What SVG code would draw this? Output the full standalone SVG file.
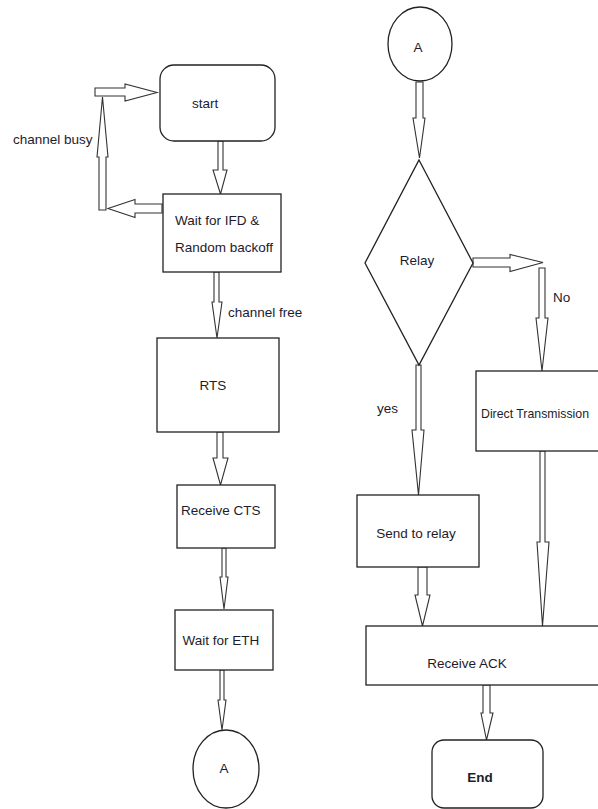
<svg xmlns="http://www.w3.org/2000/svg" width="598" height="809" viewBox="0 0 598 809">
<style>
.box{fill:#fff;stroke:#222;stroke-width:1.3}
.arr{fill:#fff;stroke:#333;stroke-width:1.1;stroke-linejoin:miter}
text{font-family:"Liberation Sans",Arial,sans-serif;font-size:13.5px;fill:#1c1c2c}
.c{text-anchor:middle}
</style>
<rect width="598" height="809" fill="#fff"/>
<g id="connectors">
<polygon class="arr" points="218,141 223,141 223,170 227,170 220.5,194 213,170 218,170"/>
<polygon class="arr" points="162,204 162,213 135,213 135,217.5 108,208.5 135,199.5 135,204"/>
<polygon class="arr" points="99,210 106,210 106,157 108,157 102.5,97 97,157 99,157"/>
<polygon class="arr" points="95,88 125,88 125,84 157,92.5 125,101 125,96 95,96"/>
<polygon class="arr" points="214,272 219,272 219,302 222,302 217,338 212,302 214,302"/>
<polygon class="arr" points="217,432 223,432 223,458 228,458 220.5,485 213,458 217,458"/>
<polygon class="arr" points="222,548 226,548 226,577 228,577 224,609 220,577 222,577"/>
<polygon class="arr" points="220,670 224,670 224,700 226,700 222,730 218,700 220,700"/>
<polygon class="arr" points="416,82 423,82 423,118 425,118 419.5,158 413,118 416,118"/>
<polygon class="arr" points="473,258 510,258 510,254.5 543,262.5 510,271.5 510,267 473,267"/>
<polygon class="arr" points="539,268 545,268 545,318 548,318 542,371 536,318 539,318"/>
<polygon class="arr" points="416,365 421,365 421,430 424,430 418.5,495 412,430 416,430"/>
<polygon class="arr" points="540,451 545,451 545,542 549,542 542.5,626 537,542 540,542"/>
<polygon class="arr" points="418,567 427,567 427,595 430,595 422.5,626 415,595 418,595"/>
<polygon class="arr" points="483,685 490,685 490,713 493,713 486.5,740 481,713 483,713"/>
</g>
<g id="start"><rect class="box" x="160" y="65" width="115" height="76" rx="14"/><text x="192" y="108">start</text></g>
<g id="wait-ifd"><rect class="box" x="163" y="194" width="118" height="78"/><text x="175" y="225">Wait for IFD &amp;</text><text x="175" y="252">Random backoff</text></g>
<g id="label-busy"><text x="13" y="144">channel busy</text></g>
<g id="label-free"><text x="228" y="317">channel free</text></g>
<g id="rts"><rect class="box" x="157" y="338" width="122" height="94"/><text class="c" x="213" y="390">RTS</text></g>
<g id="receive-cts"><rect class="box" x="177" y="485" width="98" height="63"/><text x="181" y="515">Receive CTS</text></g>
<g id="wait-eth"><rect class="box" x="175" y="610" width="98" height="60"/><text class="c" x="221" y="645">Wait for ETH</text></g>
<g id="a-bottom"><ellipse class="box" cx="226" cy="769" rx="33" ry="39"/><text class="c" x="224" y="773">A</text></g>
<g id="a-top"><ellipse class="box" cx="420" cy="44" rx="32" ry="37"/><text class="c" x="418" y="52">A</text></g>
<g id="relay"><polygon class="box" points="419,160 473,263 419,365 365,263"/><text class="c" x="417" y="265">Relay</text></g>
<g id="label-no"><text x="553" y="302">No</text></g>
<g id="label-yes"><text x="377" y="413">yes</text></g>
<g id="direct"><rect class="box" x="476" y="371" width="140" height="80"/><text x="481" y="418" font-size="12.5" textLength="108" lengthAdjust="spacingAndGlyphs">Direct Transmission</text></g>
<g id="send-relay"><rect class="box" x="357" y="495" width="122" height="72"/><text class="c" x="416" y="538">Send to relay</text></g>
<g id="receive-ack"><rect class="box" x="366" y="626" width="250" height="59"/><text class="c" x="467" y="668">Receive ACK</text></g>
<g id="end"><rect class="box" x="432" y="740" width="111" height="68" rx="12"/><text class="c" x="480" y="782" font-weight="bold">End</text></g>
</svg>
